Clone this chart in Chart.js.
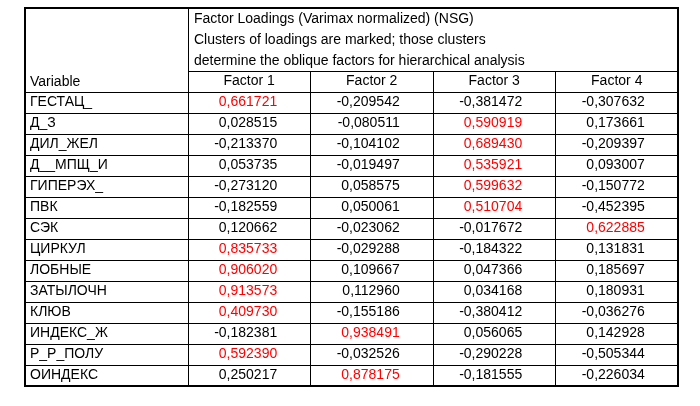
<!DOCTYPE html>
<html><head><meta charset="utf-8">
<script src="https://cdn.jsdelivr.net/npm/chart.js@4"></script>
<style>html,body{margin:0;background:#fff}#wrap{width:700px;height:406px}</style>
</head><body><div id="wrap"><canvas id="c"></canvas></div>
<script>
const titleLines = ['Factor Loadings (Varimax normalized) (NSG)', 'Clusters of loadings are marked; those clusters', 'determine the oblique factors for hierarchical analysis'];
const factors = ['Factor 1', 'Factor 2', 'Factor 3', 'Factor 4'];
const variables = ['ГЕСТАЦ_', 'Д_З', 'ДИЛ_ЖЕЛ', 'Д__МПЩ_И', 'ГИПЕРЭХ_', 'ПВК', 'СЭК', 'ЦИРКУЛ', 'ЛОБНЫЕ', 'ЗАТЫЛОЧН', 'КЛЮВ', 'ИНДЕКС_Ж', 'Р_Р_ПОЛУ', 'ОИНДЕКС'];
const f1 = [0.661721, 0.028515, -0.213370, 0.053735, -0.273120, -0.182559, 0.120662, 0.835733, 0.906020, 0.913573, 0.409730, -0.182381, 0.592390, 0.250217];
const f2 = [-0.209542, -0.080511, -0.104102, -0.019497, 0.058575, 0.050061, -0.023062, -0.029288, 0.109667, 0.112960, -0.155186, 0.938491, -0.032526, 0.878175];
const f3 = [-0.381472, 0.590919, 0.689430, 0.535921, 0.599632, 0.510704, -0.017672, -0.184322, 0.047366, 0.034168, -0.380412, 0.056065, -0.290228, -0.181555];
const f4 = [-0.307632, 0.173661, -0.209397, 0.093007, -0.150772, -0.452395, 0.622885, 0.131831, 0.185697, 0.180931, -0.036276, 0.142928, -0.505344, -0.226034];
// which factor each variable's marked loading belongs to (0-based)
const cluster = [0, 2, 2, 2, 2, 2, 3, 0, 0, 0, 0, 1, 0, 1];
const series = [f1, f2, f3, f4];

const fmt = v => v.toFixed(6).replace('.', ',');
const datasets = series.map((s, j) => ({
  label: factors[j],
  data: s.map((v, i) => ({ x: j + 0.5, y: i + 4.5, v: v })),
  pointRadius: 0
}));

const FONT = '14px "Liberation Sans", Arial, sans-serif';
const tablePlugin = {
  id: 'table',
  afterDatasetsDraw(chart) {
    const ctx = chart.ctx, xs = chart.scales.x, ys = chart.scales.y;
    const X = v => xs.getPixelForValue(v), Y = v => ys.getPixelForValue(v);
    ctx.save();
    ctx.strokeStyle = '#000';
    ctx.lineWidth = 1;
    const line = (x1, y1, x2, y2) => { ctx.beginPath(); ctx.moveTo(Math.round(x1) + 0.5, Math.round(y1) + 0.5); ctx.lineTo(Math.round(x2) + 0.5, Math.round(y2) + 0.5); ctx.stroke(); };
    line(X(0), Y(0), X(0), Y(18));
    for (let j = 1; j < 4; j++) line(X(j), Y(3), X(j), Y(18));
    line(X(0), Y(3), X(4), Y(3));
    for (let r = 4; r < 18; r++) line(X(-1.33), Y(r), X(4), Y(r));
    ctx.lineWidth = 2;
    ctx.strokeRect(X(-1.33), Y(0), X(4) - X(-1.33), Y(18) - Y(0));
    ctx.font = FONT;
    ctx.fillStyle = '#000';
    ctx.textBaseline = 'middle';
    ctx.textAlign = 'left';
    titleLines.forEach((t, k) => ctx.fillText(t, X(0) + 6, Y(k + 0.55)));
    ctx.fillText('Variable', X(-1.33) + 5, Y(3.55));
    variables.forEach((t, i) => ctx.fillText(t, X(-1.33) + 5, Y(i + 4.5)));
    ctx.textAlign = 'center';
    factors.forEach((t, j) => ctx.fillText(t, X(j + 0.5), Y(3.5)));
    ctx.textAlign = 'right';
    chart.data.datasets.forEach((ds, j) => {
      chart.getDatasetMeta(j).data.forEach((p, i) => {
        ctx.fillStyle = cluster[i] === j ? '#ff0000' : '#000';
        ctx.fillText(fmt(ds.data[i].v), p.x + 28, p.y);
      });
    });
    ctx.restore();
  }
};

new Chart(document.getElementById('c'), {
  type: 'scatter',
  data: { datasets: datasets },
  options: {
    responsive: true, maintainAspectRatio: false, animation: false,
    layout: { padding: { left: 25, right: 22, top: 8, bottom: 20 } },
    plugins: { legend: { display: false }, tooltip: { enabled: false } },
    scales: {
      x: { type: 'linear', min: -1.33, max: 4, display: false },
      y: { type: 'linear', min: 0, max: 18, reverse: true, display: false }
    }
  },
  plugins: [tablePlugin]
});
</script>
</body></html>
